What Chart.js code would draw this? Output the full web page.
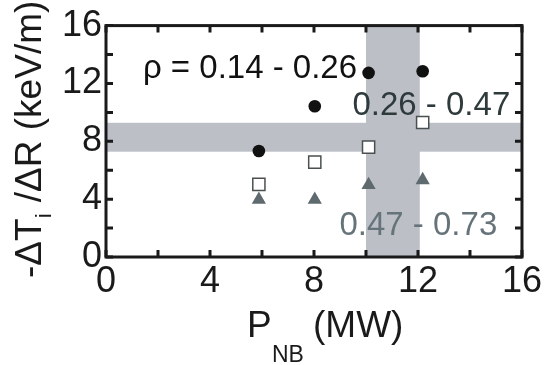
<!DOCTYPE html>
<html>
<head>
<meta charset="utf-8">
<script src="https://cdn.jsdelivr.net/npm/chart.js@4.4.1/dist/chart.umd.min.js"></script>
<style>
  body { margin: 0; background: #fff; }
</style>
</head>
<body>
<canvas id="chart" width="545" height="365"></canvas>
<script>
// NB power (MW)
const pnb = [5.88, 8.03, 10.1, 12.18];
// -dTi/dR (keV/m) for three radial ranges
const gradInner = [7.33, 10.42, 12.73, 12.84];   // rho = 0.14 - 0.26
const gradMid = [5.02, 6.56, 7.6, 9.3];          // 0.26 - 0.47
const gradOuter = [3.96, 3.96, 4.98, 5.32];      // 0.47 - 0.73
const rangeLabels = ['ρ = 0.14 - 0.26', '0.26 - 0.47', '0.47 - 0.73'];
const tickLabels = [0, 4, 8, 12, 16];
// shaded bands
const gradBand = [7.28, 9.28];
const pnbBand = [10.0, 12.07];

const FONT = "'Liberation Sans', Arial, Helvetica, sans-serif";

function pts(ys) {
    return ys.map((y, i) => ({ x: pnb[i], y: y }));
}

// shaded bands behind the points
const bandsPlugin = {
    id: 'bands',
    beforeDatasetsDraw(chart) {
        const { ctx, chartArea: a, scales: { x, y } } = chart;
        ctx.save();
        ctx.fillStyle = '#bcc0c6';
        const y1 = y.getPixelForValue(gradBand[1]);
        const y0 = y.getPixelForValue(gradBand[0]);
        ctx.fillRect(a.left, y1, a.right - a.left, y0 - y1);
        const x0 = x.getPixelForValue(pnbBand[0]);
        const x1 = x.getPixelForValue(pnbBand[1]);
        ctx.fillRect(x0, a.top, x1 - x0, a.bottom - a.top);

        // range labels
        ctx.font = '33px ' + FONT;
        ctx.textBaseline = 'alphabetic';
        ctx.textAlign = 'left';
        ctx.fillStyle = '#111';
        ctx.fillText(rangeLabels[0], x.getPixelForValue(1.42), y.getPixelForValue(12.39));
        ctx.fillStyle = '#2e3a3c';
        ctx.fillText(rangeLabels[1], x.getPixelForValue(9.48), y.getPixelForValue(9.8));
        ctx.fillStyle = '#66747a';
        ctx.fillText(rangeLabels[2], x.getPixelForValue(8.98), y.getPixelForValue(1.5));
        ctx.restore();
    }
};

// boxed frame with inward ticks on all four sides, plus axis titles
const framePlugin = {
    id: 'frame',
    afterDraw(chart) {
        const { ctx, chartArea: a, scales: { x, y } } = chart;
        ctx.save();
        ctx.strokeStyle = '#1a1a1a';
        ctx.lineWidth = 3;
        ctx.strokeRect(a.left, a.top, a.right - a.left, a.bottom - a.top);
        const t = 7;
        ctx.beginPath();
        x.ticks.forEach(tk => {
            const px = x.getPixelForValue(tk.value);
            ctx.moveTo(px, a.bottom); ctx.lineTo(px, a.bottom - t);
            ctx.moveTo(px, a.top); ctx.lineTo(px, a.top + t);
        });
        y.ticks.forEach(tk => {
            const py = y.getPixelForValue(tk.value);
            ctx.moveTo(a.left, py); ctx.lineTo(a.left + t, py);
            ctx.moveTo(a.right, py); ctx.lineTo(a.right - t, py);
        });
        ctx.stroke();

        // x title: P_NB (MW)
        ctx.fillStyle = '#1a1a1a';
        ctx.textAlign = 'left';
        ctx.textBaseline = 'alphabetic';
        ctx.font = '37px ' + FONT;
        ctx.fillText('P', 247, 337);
        ctx.fillText('(MW)', 313, 337);
        ctx.font = '23px ' + FONT;
        ctx.fillText('NB', 272, 362);

        // y title: -ΔT_i /ΔR (keV/m)
        ctx.translate(41, 278);
        ctx.rotate(-Math.PI / 2);
        ctx.font = '37px ' + FONT;
        let w = ctx.measureText('-ΔT').width;
        ctx.fillText('-ΔT', 0, 0);
        ctx.font = '22px ' + FONT;
        ctx.fillText('i', w, 10);
        w += ctx.measureText('i').width + 1;
        ctx.font = '37px ' + FONT;
        ctx.fillText(' /ΔR (keV/m)', w, 0);
        ctx.restore();
    }
};

new Chart(document.getElementById('chart'), {
    type: 'scatter',
    data: {
        datasets: [
            {
                label: rangeLabels[0],
                data: pts(gradInner),
                pointStyle: 'circle',
                pointRadius: 6.3,
                backgroundColor: '#111',
                borderColor: '#111',
                borderWidth: 0
            },
            {
                label: rangeLabels[1],
                data: pts(gradMid),
                pointStyle: 'rect',
                pointRadius: 8.6,
                backgroundColor: '#fff',
                borderColor: '#4a4f50',
                borderWidth: 1.5
            },
            {
                label: rangeLabels[2],
                data: pts(gradOuter),
                pointStyle: 'triangle',
                pointRadius: 8.2,
                backgroundColor: '#5e6a6e',
                borderColor: '#5e6a6e',
                borderWidth: 0
            }
        ]
    },
    options: {
        responsive: false,
        animation: false,
        layout: { padding: { top: 22, right: 22, left: 0, bottom: 0 } },
        plugins: {
            legend: { display: false },
            tooltip: { enabled: false }
        },
        scales: {
            x: {
                type: 'linear',
                min: 0,
                max: 16,
                grid: { display: false, drawTicks: false },
                border: { display: false },
                ticks: {
                    stepSize: 2,
                    autoSkip: false,
                    maxRotation: 0,
                    padding: 3,
                    color: '#1a1a1a',
                    font: { family: FONT, size: 36 },
                    callback: v => tickLabels.includes(v) ? String(v) : ''
                },
                afterFit(s) { s.height = 108; }
            },
            y: {
                type: 'linear',
                min: 0,
                max: 16,
                grid: { display: false, drawTicks: false },
                border: { display: false },
                ticks: {
                    stepSize: 2,
                    autoSkip: false,
                    padding: 4,
                    color: '#1a1a1a',
                    font: { family: FONT, size: 36 },
                    callback: v => tickLabels.includes(v) ? String(v) : ''
                },
                afterFit(s) { s.width = 106; }
            }
        }
    },
    plugins: [bandsPlugin, framePlugin]
});
</script>
</body>
</html>
